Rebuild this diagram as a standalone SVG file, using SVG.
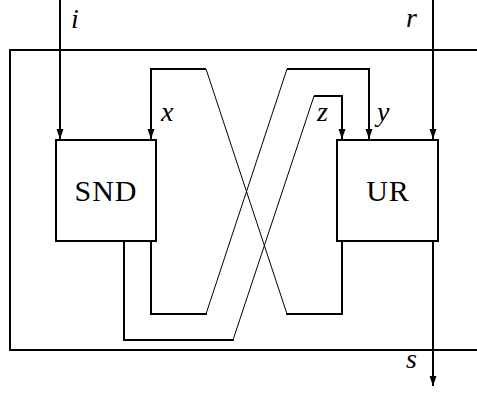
<svg xmlns="http://www.w3.org/2000/svg" width="477" height="393" viewBox="0 0 477 393">
  <style>
    .thick { fill: none; stroke: #000; stroke-width: 2; stroke-linejoin: miter; stroke-linecap: square; }
    .thin { fill: none; stroke: #000; stroke-width: 1; }
    .box { fill: #fff; stroke: #000; stroke-width: 2; }
    text { font-family: 'Liberation Serif', 'DejaVu Serif', 'Times New Roman', Times, serif; }
    .name { font-size: 30px; text-anchor: middle; letter-spacing: 1px; }
    .var { font-size: 28px; font-style: italic; }
  </style>
  <defs>
    <marker id="arrow" markerUnits="userSpaceOnUse" markerWidth="10" markerHeight="8" refX="10" refY="3.5" orient="auto">
      <path d="M0,0 L10,3.5 L0,7 z" fill="#000"/>
    </marker>
  </defs>
  <rect width="477" height="393" fill="#fff"/>

  <!-- enclosing frame, open on the right -->
  <path class="thick" d="M477,50 H10 V350 H477" style="stroke-linecap:butt"/>

  <g id="connectors">
    <!-- external input i -->
    <path class="thick" d="M60,0 V139" style="stroke-linecap:butt" marker-end="url(#arrow)"/>
    <!-- external input r -->
    <path class="thick" d="M433,0 V139" style="stroke-linecap:butt" marker-end="url(#arrow)"/>
    <!-- external output s -->
    <path class="thick" d="M433,241 V386" style="stroke-linecap:butt" marker-end="url(#arrow)"/>

    <!-- channel x: UR -> SND -->
    <path class="thick" d="M342,241 V314 H287"/>
    <path class="thin" d="M287,314 L206,69"/>
    <path class="thick" d="M206,69 H151 V139" style="stroke-linecap:butt" marker-end="url(#arrow)"/>

    <!-- channel y: SND -> UR -->
    <path class="thick" d="M151,241 V314 H206"/>
    <path class="thin" d="M206,314 L287,69"/>
    <path class="thick" d="M287,69 H369 V139" style="stroke-linecap:butt" marker-end="url(#arrow)"/>

    <!-- channel z: SND -> UR -->
    <path class="thick" d="M124,241 V340 H233"/>
    <path class="thin" d="M233,340 L314,96"/>
    <path class="thick" d="M314,96 H342 V139" style="stroke-linecap:butt" marker-end="url(#arrow)"/>
  </g>

  <g id="SND">
    <rect class="box" x="56" y="140" width="100" height="101"/>
    <text class="name" x="106" y="201">SND</text>
  </g>

  <g id="UR">
    <rect class="box" x="337" y="140" width="101" height="101"/>
    <text class="name" x="388" y="201">UR</text>
  </g>

  <g id="labels">
    <text class="var" x="71" y="28">i</text>
    <text class="var" x="406" y="27">r</text>
    <text class="var" x="161" y="121">x</text>
    <text class="var" x="317" y="121">z</text>
    <text class="var" x="377" y="121">y</text>
    <text class="var" x="406" y="368">s</text>
  </g>
</svg>
